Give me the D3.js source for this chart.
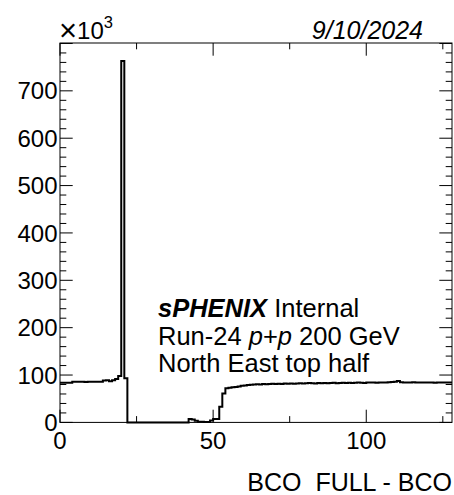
<!DOCTYPE html>
<html>
<head>
<meta charset="utf-8">
<script src="https://cdn.jsdelivr.net/npm/d3@7"></script>
<style>
  html, body { margin: 0; padding: 0; background: #fff; }
  svg { display: block; }
  text { font-family: "Liberation Sans", Arial, Helvetica, sans-serif; fill: #000; white-space: pre; }
</style>
</head>
<body>
<svg id="chart" width="454" height="495"></svg>
<script>
// ---- data (counts in units of 10^3), one bin per BCO difference 0..127 ----
const binEdges = [0, 128];
const counts = [
  83.5, 83.5, 83.5, 83.5, 86, 86, 86, 86, 85.5, 86,      // 0-9
  86, 86, 86, 86, 88.5, 89, 87, 89, 91.5, 98,           // 10-19
  763, 93, 0, 0, 0, 0, 0, 0, 0, 0,                      // 20-29
  0, 0, 0, 0, 0, 0, 0, 0, 0, 0,                         // 30-39
  0, 0, 7, 6, 3.5, 1.5, 1.5, 1, 1, 4,                   // 40-49
  7, 7, 33, 61, 72, 73, 74, 75, 76, 77.5,               // 50-59
  78, 79, 79.5, 80, 80.5, 80, 81, 80.5, 81, 81.5,       // 60-69
  81, 81.5, 81, 82, 81.5, 82, 81.5, 82, 82.5, 82,       // 70-79
  82.5, 83, 82.5, 82, 83, 82.5, 83, 82.5, 83, 83.5,     // 80-89
  82.5, 83, 83.5, 83, 83.5, 83, 83.5, 84, 83.5, 83,     // 90-99
  84, 84.5, 84, 83.5, 84, 84.5, 84, 85, 85.5, 86,       // 100-109
  87.5, 85, 84.5, 84, 84.5, 85, 84.5, 84, 84.5, 84,     // 110-119
  84.5, 84, 83.5, 84, 84.5, 84, 84.5, 84                // 120-127
];
const xTicksMajor = [0, 50, 100];
const xTicksMinor = [25, 75, 125];
const yTicksMajor = [0, 100, 200, 300, 400, 500, 600, 700];
const yTicksMinorStep = 20;
const yMax = 801;
const xTitle = "BCO\u00a0\u00a0FULL - BCO";
const dateLabel = "9/10/2024";
const textLines = ["Internal", "Run-24 ", "North East top half"];

// ---- layout ----
const L = 60, R = 452, T = 43, B = 422.4;
const svg = d3.select("#chart");
const x = d3.scaleLinear().domain(binEdges).range([L, R]);
const y = d3.scaleLinear().domain([0, yMax]).range([B, T]);

// histogram outline (steps)
const pts = [];
counts.forEach((v, i) => {
  pts.push([x(i), y(v)]);
  pts.push([x(i + 1), y(v)]);
});
svg.append("path")
  .attr("d", d3.line()(pts))
  .attr("fill", "none")
  .attr("stroke", "#000")
  .attr("stroke-width", 2)
  .attr("stroke-linejoin", "miter");

// frame
svg.append("rect")
  .attr("x", L).attr("y", T)
  .attr("width", R - L).attr("height", B - T)
  .attr("fill", "none").attr("stroke", "#000").attr("stroke-width", 1);

const MAJ = 12.7, MIN = 6.3;
const tg = svg.append("g").attr("stroke", "#000").attr("stroke-width", 1);
// x ticks (bottom, pointing up; top, pointing down)
xTicksMajor.concat(xTicksMinor).forEach(t => {
  const len = xTicksMajor.includes(t) ? MAJ : MIN;
  const px = x(t);
  tg.append("line").attr("x1", px).attr("x2", px).attr("y1", B).attr("y2", B - len);
  tg.append("line").attr("x1", px).attr("x2", px).attr("y1", T).attr("y2", T + len);
});
// y ticks (left and right)
for (let v = 0; v <= yMax; v += yTicksMinorStep) {
  const len = (v % 100 === 0) ? MAJ : MIN;
  const py = y(v);
  tg.append("line").attr("x1", L).attr("x2", L + len).attr("y1", py).attr("y2", py);
  tg.append("line").attr("x1", R).attr("x2", R - len).attr("y1", py).attr("y2", py);
}

// tick labels
svg.append("g").selectAll("text").data(xTicksMajor).join("text")
  .attr("x", d => x(d)).attr("y", 448.5)
  .attr("text-anchor", "middle").attr("font-size", 24)
  .text(d => d);
svg.append("g").selectAll("text").data(yTicksMajor).join("text")
  .attr("x", 57.5).attr("y", d => y(d) + 8.6)
  .attr("text-anchor", "end").attr("font-size", 24)
  .text(d => d);

// exponent label
const ex = svg.append("text").attr("x", 59).attr("y", 39).attr("font-size", 24);
ex.append("tspan").attr("font-size", 31).attr("dy", 1.5).text("\u00d7");
ex.append("tspan").attr("dy", -1.5).text("10");
ex.append("tspan").attr("dy", -11).attr("font-size", 16.5).text("3");

// date
svg.append("text").attr("x", 423).attr("y", 38.5)
  .attr("text-anchor", "end").attr("font-size", 25).attr("font-style", "italic")
  .text(dateLabel);

// axis title
svg.append("text").attr("x", 452).attr("y", 490.5)
  .attr("text-anchor", "end").attr("font-size", 25)
  .text(xTitle);

// annotation
const tx = 158;
const l1 = svg.append("text").attr("x", tx).attr("y", 317.3).attr("font-size", 25.5);
l1.append("tspan").attr("font-weight", "bold").attr("font-style", "italic").text("sPHENIX");
l1.append("tspan").text(" " + textLines[0]);
const l2 = svg.append("text").attr("x", tx).attr("y", 345).attr("font-size", 25.5);
l2.append("tspan").text(textLines[1]);
l2.append("tspan").attr("font-style", "italic").text("p");
l2.append("tspan").text("+");
l2.append("tspan").attr("font-style", "italic").text("p");
l2.append("tspan").text(" 200 GeV");
svg.append("text").attr("x", tx).attr("y", 372.3).attr("font-size", 25.5).text(textLines[2]);
</script>
</body>
</html>
